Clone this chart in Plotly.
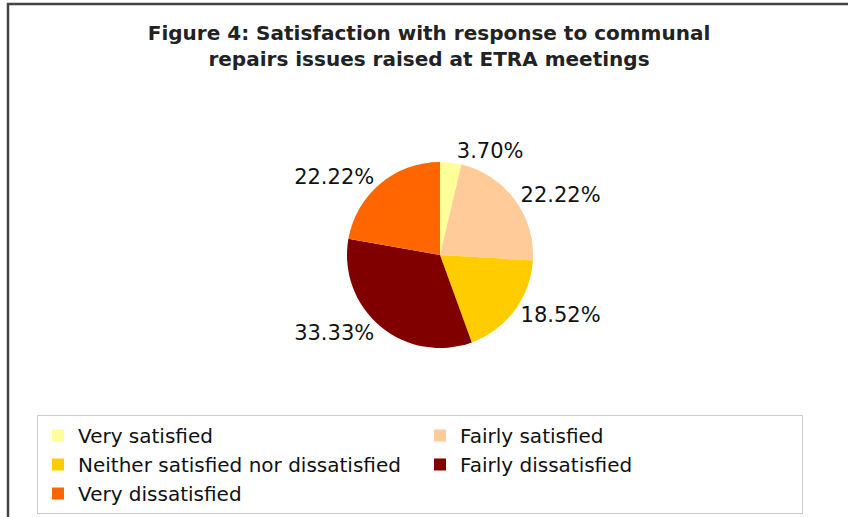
import plotly.graph_objects as go

# Survey responses (percent of respondents)
categories = [
    "Very satisfied",
    "Fairly satisfied",
    "Neither satisfied nor dissatisfied",
    "Fairly dissatisfied",
    "Very dissatisfied",
]
percentages = [3.70, 22.22, 18.52, 33.33, 22.22]
slice_colors = ["#FFFF99", "#FFCC99", "#FFCC00", "#800000", "#FF6600"]

title_lines = [
    "Figure 4: Satisfaction with response to communal",
    "repairs issues raised at ETRA meetings",
]

W, H = 848, 517
cx, cy, r = 440, 255, 93  # pie centre and radius in pixels

fig = go.Figure(
    go.Pie(
        labels=categories,
        values=percentages,
        sort=False,
        direction="clockwise",
        rotation=0,
        marker=dict(colors=slice_colors, line=dict(width=0)),
        texttemplate="%{value:.2f}%",
        textposition="outside",
        outsidetextfont=dict(family="DejaVu Sans", size=21, color="#111111"),
        hoverinfo="label+percent",
        automargin=False,
        domain=dict(
            x=[(cx - r) / W, (cx + r) / W],
            y=[(H - cy - r) / H, (H - cy + r) / H],
        ),
    )
)

fig.update_layout(
    width=W,
    height=H,
    margin=dict(l=0, r=0, t=0, b=0, autoexpand=False),
    paper_bgcolor="white",
    plot_bgcolor="white",
    font=dict(family="DejaVu Sans", color="#111111"),
    title=dict(
        text="<br>".join(title_lines),
        font=dict(family="DejaVu Sans", size=20, color="#222222", weight="bold"),
        x=429 / W,
        xanchor="center",
        xref="container",
        y=1 - 40 / H,
        yanchor="top",
        yref="container",
    ),
    legend=dict(
        orientation="h",
        xref="container",
        yref="container",
        x=37 / W,
        xanchor="left",
        y=1 - 415 / H,
        yanchor="top",
        entrywidth=337,
        entrywidthmode="pixels",
        bordercolor="#cccccc",
        borderwidth=1,
        bgcolor="white",
        font=dict(family="DejaVu Sans", size=20, color="#111111"),
        traceorder="normal",
    ),
    showlegend=True,
    shapes=[
        dict(
            type="rect",
            xref="paper",
            yref="paper",
            x0=8 / W,
            x1=1.05,
            y0=-0.05,
            y1=1 - 4 / H,
            line=dict(color="#444444", width=2.5),
            fillcolor="rgba(0,0,0,0)",
            layer="below",
        )
    ],
)

fig.write_html("out.html")
